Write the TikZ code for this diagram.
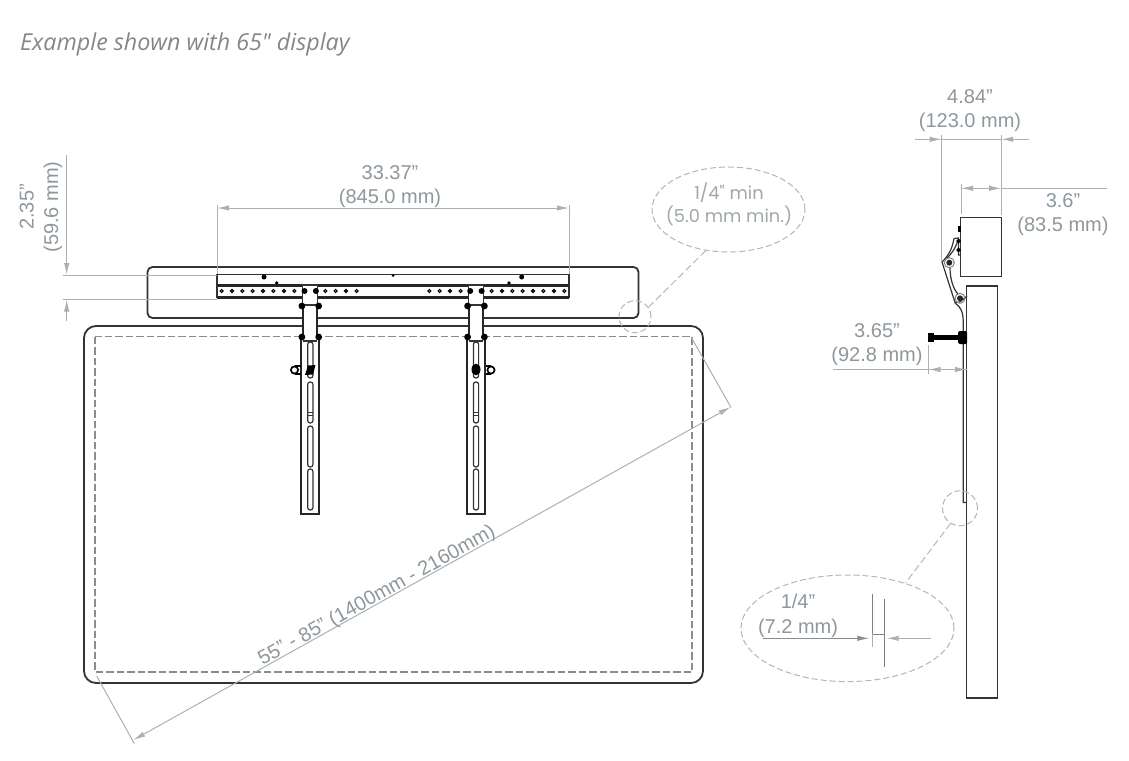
\documentclass[tikz,border=0pt]{standalone}
\usepackage{fontspec}
\setmainfont{Liberation Sans}
\newfontfamily\titlefont{Open Sans}
\newfontfamily\bubblefont{Poppins}
\usetikzlibrary{arrows.meta}
\usetikzlibrary{shapes.geometric}
\definecolor{dimgray}{HTML}{A9B1B5}
\definecolor{dimtext}{HTML}{8E979C}
\definecolor{bubblegray}{HTML}{B0B6B9}
\definecolor{inkgray}{HTML}{333333}

\begin{document}
\begin{tikzpicture}[x=1pt, y=-1pt,
  outline/.style={draw=inkgray, line width=1.8pt},
  thinpart/.style={draw=inkgray, line width=1.2pt},
  hidden/.style={draw=gray!90, line width=1.8pt, dash pattern=on 7.5pt off 3pt},
  dimline/.style={draw=dimgray, line width=1pt},
  dimarrow/.style={dimline, -{Latex[length=12pt,width=5.5pt]}},
  dimarrows/.style={dimline, {Latex[length=12pt,width=5.5pt]}-{Latex[length=12pt,width=5.5pt]}},
  dimlabel/.style={text=dimtext, align=center, inner sep=0pt,
    font=\fontsize{20}{24.5}\selectfont},
  bubble/.style={draw=bubblegray, line width=1pt, dash pattern=on 6pt off 3pt, inner sep=0pt},
  spot/.style={bubble, circle},
  oval/.style={bubble, ellipse},
  leader/.style={draw=bubblegray, line width=1pt, dash pattern=on 7pt off 3.5pt}]
  \useasboundingbox (0,0) rectangle (1129,760);

  \node[anchor=west, inner sep=0pt, text=gray!95,
    font=\titlefont\itshape\fontsize{23.3}{28}\selectfont] (title) at (20,44.5)
    {Example shown with 65" display};

  % front view
  \draw[outline, rounded corners=5] (147.5,267) rectangle (638.5,318);
  \draw[outline, rounded corners=12] (84,326) rectangle (703,683);
  \draw[hidden] (95,336.5) rectangle (692,672);

  \draw[thinpart, line width=1.4pt] (217,298) -- (217,274.5) -- (569,274.5) -- (569,298);
  \draw[draw=black!85, line width=2.4pt] (217,285.5) -- (569,285.5);
  \draw[draw=black!85, line width=2.8pt] (217,297.5) -- (569,297.5);
  \foreach \holex in {221.7,232,242.3,252.7,263,273.3,284,294.3,325.3,335.7,346,356.7,
      429.3,439.7,450,460.7,491.7,502,512.3,522.7,533,543.3,554,564.3}
    \draw[black, line width=1.1pt] (\holex,291) circle (1.5);
  \foreach \dotx/\doty/\dotr in {264/277/2.5, 276.7/283/1.8, 521.7/277/2.5, 509/283/1.8, 393/275.5/1.5}
    \fill[black] (\dotx,\doty) circle (\dotr);

  \foreach \armx in {310.3,476} {
    \fill[white] (\armx-7.5,284) rectangle (\armx+7.5,337);
    \draw[thinpart] (\armx-7.5,285) rectangle (\armx+7.5,305);
    \draw[draw=black!85, line width=2pt] (\armx-7,305) -- (\armx-7,337);
    \draw[draw=black!85, line width=2pt] (\armx+7,305) -- (\armx+7,337);
    \draw[draw=black!85, line width=1.7pt] (\armx-9,337) -- (\armx-9,514) -- (\armx+9,514) -- (\armx+9,337);
    \draw[thinpart] (\armx-7,341) -- (\armx+7,341);
    \foreach \boltx in {-5.8,5.6}
      \fill[black] (\armx+\boltx,291) circle (3);
    \foreach \boltx in {-8.4,8.4} {
      \fill[black] (\armx+\boltx,306) circle (3.4);
      \fill[black] (\armx+\boltx,337) circle (3.4);
    }
    \foreach \slottop/\slotend in {342/378, 382/423, 426/467, 469/510}
      \draw[thinpart, rounded corners=2.4] (\armx-2.6,\slottop) rectangle (\armx+2.6,\slotend);
    \draw[thinpart, line width=.9pt] (\armx-2.6,412) -- (\armx+2.6,412) (\armx-2.6,415) -- (\armx+2.6,415);
  }
  \fill[black] (305,375) -- (308,365.5) -- (315.5,365) -- (313,374.5) -- cycle;
  \fill[black] (476,369.5) ellipse (4.5 and 5.8);
  \draw[black, line width=1.7pt] (294.5,370) circle (3.6);
  \draw[black, line width=1.7pt] (301,366.2) -- (294.5,366.2) (301,373.8) -- (294.5,373.8);
  \draw[black, line width=1.7pt] (491,370) circle (3.6);
  \draw[black, line width=1.7pt] (485.5,366.2) -- (491,366.2) (485.5,373.8) -- (491,373.8);

  % side view
  \draw[thinpart, line width=1.4pt] (960.7,217.7) rectangle (1001.3,276.7);
  \draw[thinpart, line width=1.4pt] (966.7,286) rectangle (997.3,698);
  \draw[thinpart] (955,303) .. controls (961,307) and (963,312) .. (963.3,322) -- (963.3,502.5) -- (966.7,502.5);
  \draw[thinpart] (954,238.5) .. controls (952,250) and (948,256) .. (942,262) -- (955,302.5) .. controls (959,303) .. (967,296);
  \draw[thinpart] (954,238.5) -- (958.5,238) -- (958.5,255) -- (960.7,255);
  \draw[thinpart] (958,240) .. controls (955,250) and (950,255) .. (947,258);
  \draw[thinpart] (950,268) .. controls (950,280) and (954,290) .. (958,294);
  \foreach \jointx/\jointy in {949.3/262.7, 960/298.3} {
    \draw[gray, line width=1pt] (\jointx,\jointy) circle (5);
    \fill[black!85] (\jointx,\jointy) circle (3);
  }
  \foreach \lugy in {241,250}
    \draw[black, line width=1.3pt] (958.7,\lugy) circle (1.6);
  \fill[black] (958.2,226) rectangle (960.7,232);
  \fill[black] (928,333) rectangle (934,342);
  \fill[black] (933,335) rectangle (959,340);
  \fill[black, rounded corners=1.5] (958,331) rectangle (967,344);

  % dimensions
  \coordinate (barleft) at (217,208);
  \coordinate (barright) at (569,208);
  \draw[dimline] (217,205) -- (217,274);
  \draw[dimline] (569,205) -- (569,274);
  \draw[dimarrows] (barleft) -- (barright);
  \node[dimlabel] (barlabel) at (390,186.5) {33.37''\\(845.0 mm)};

  \draw[dimline] (63,275) -- (217,275);
  \draw[dimline] (63,299.5) -- (217,299.5);
  \draw[dimarrow] (66.7,155) -- (66.7,275);
  \draw[dimarrow] (66.7,321) -- (66.7,299.5);
  \node[dimlabel, rotate=90] (heightlabel) at (41,207) {2.35"\\(59.6 mm)};

  \coordinate (diagstart) at (133.3,740);
  \coordinate (diagend) at (730.5,407);
  \draw[dimline] (96.7,676) -- (134.3,743.5);
  \draw[dimline] (691.7,338) -- (731,407.5);
  \draw[dimarrows] (diagstart) -- (diagend);
  \node[dimlabel, rotate=29.15] (diaglabel) at (377,596) {55" - 85" (1400mm - 2160mm)};

  \draw[dimline] (941.7,135) -- (941.7,262);
  \draw[dimline] (1001.2,135) -- (1001.2,215);
  \draw[dimline] (941.7,139.3) -- (1001.2,139.3);
  \draw[dimarrow] (915,139.3) -- (941.7,139.3);
  \draw[dimarrow] (1029,139.3) -- (1001.2,139.3);
  \node[dimlabel] (widthlabel) at (970,110.5) {4.84''\\(123.0 mm)};

  \draw[dimline] (961,184) -- (961,214);
  \draw[dimline] (1001.2,188.3) -- (1107,188.3);
  \draw[dimarrow] (981,188.3) -- (961,188.3);
  \draw[dimarrow] (981,188.3) -- (1001.2,188.3);
  \node[dimlabel] (depthlabel) at (1063,214.5) {3.6''\\(83.5 mm)};

  \draw[dimline] (928.5,345) -- (928.5,374);
  \draw[dimline] (833,369.5) -- (967,369.5);
  \draw[dimarrow] (948,369.5) -- (928.5,369.5);
  \draw[dimarrow] (948,369.5) -- (967,369.5);
  \node[dimlabel] (boltlabel) at (877,344.5) {3.65''\\(92.8 mm)};

  % callouts
  \node[spot, minimum size=32pt] (cornerspot) at (635,316.7) {};
  \node[oval, minimum width=153pt, minimum height=85pt] (cornerbubble) at (728.5,209.5) {};
  \draw[leader] (cornerspot.35) -- (cornerbubble.-119.5);
  \node[dimlabel, text=dimtext!85, font=\bubblefont\fontsize{17.8}{23.5}\selectfont] (cornerlabel) at (729,204.5) {1/4" min\\(5.0 mm min.)};

  \node[spot, minimum size=35pt] (gapspot) at (960,508.3) {};
  \node[oval, minimum width=213pt, minimum height=106.6pt] (gapbubble) at (847.5,628.3) {};
  \draw[leader] (gapspot.238) -- (gapbubble.38);
  \node[dimlabel] (gaplabel) at (798,616) {1/4''\\(7.2 mm)};
  \draw[draw=gray, line width=1.4pt] (872.3,594) -- (872.3,634.3) -- (884.3,634.3);
  \draw[draw=gray, line width=1.4pt] (884.3,599) -- (884.3,667);
  \draw[dimline] (872.3,634.3) -- (872.3,647);
  \draw[dimarrow, draw=gray!90!white] (763,638.3) -- (869.3,638.3);
  \draw[dimarrow] (931,638.3) -- (886.7,638.3);
\end{tikzpicture}
\end{document}
